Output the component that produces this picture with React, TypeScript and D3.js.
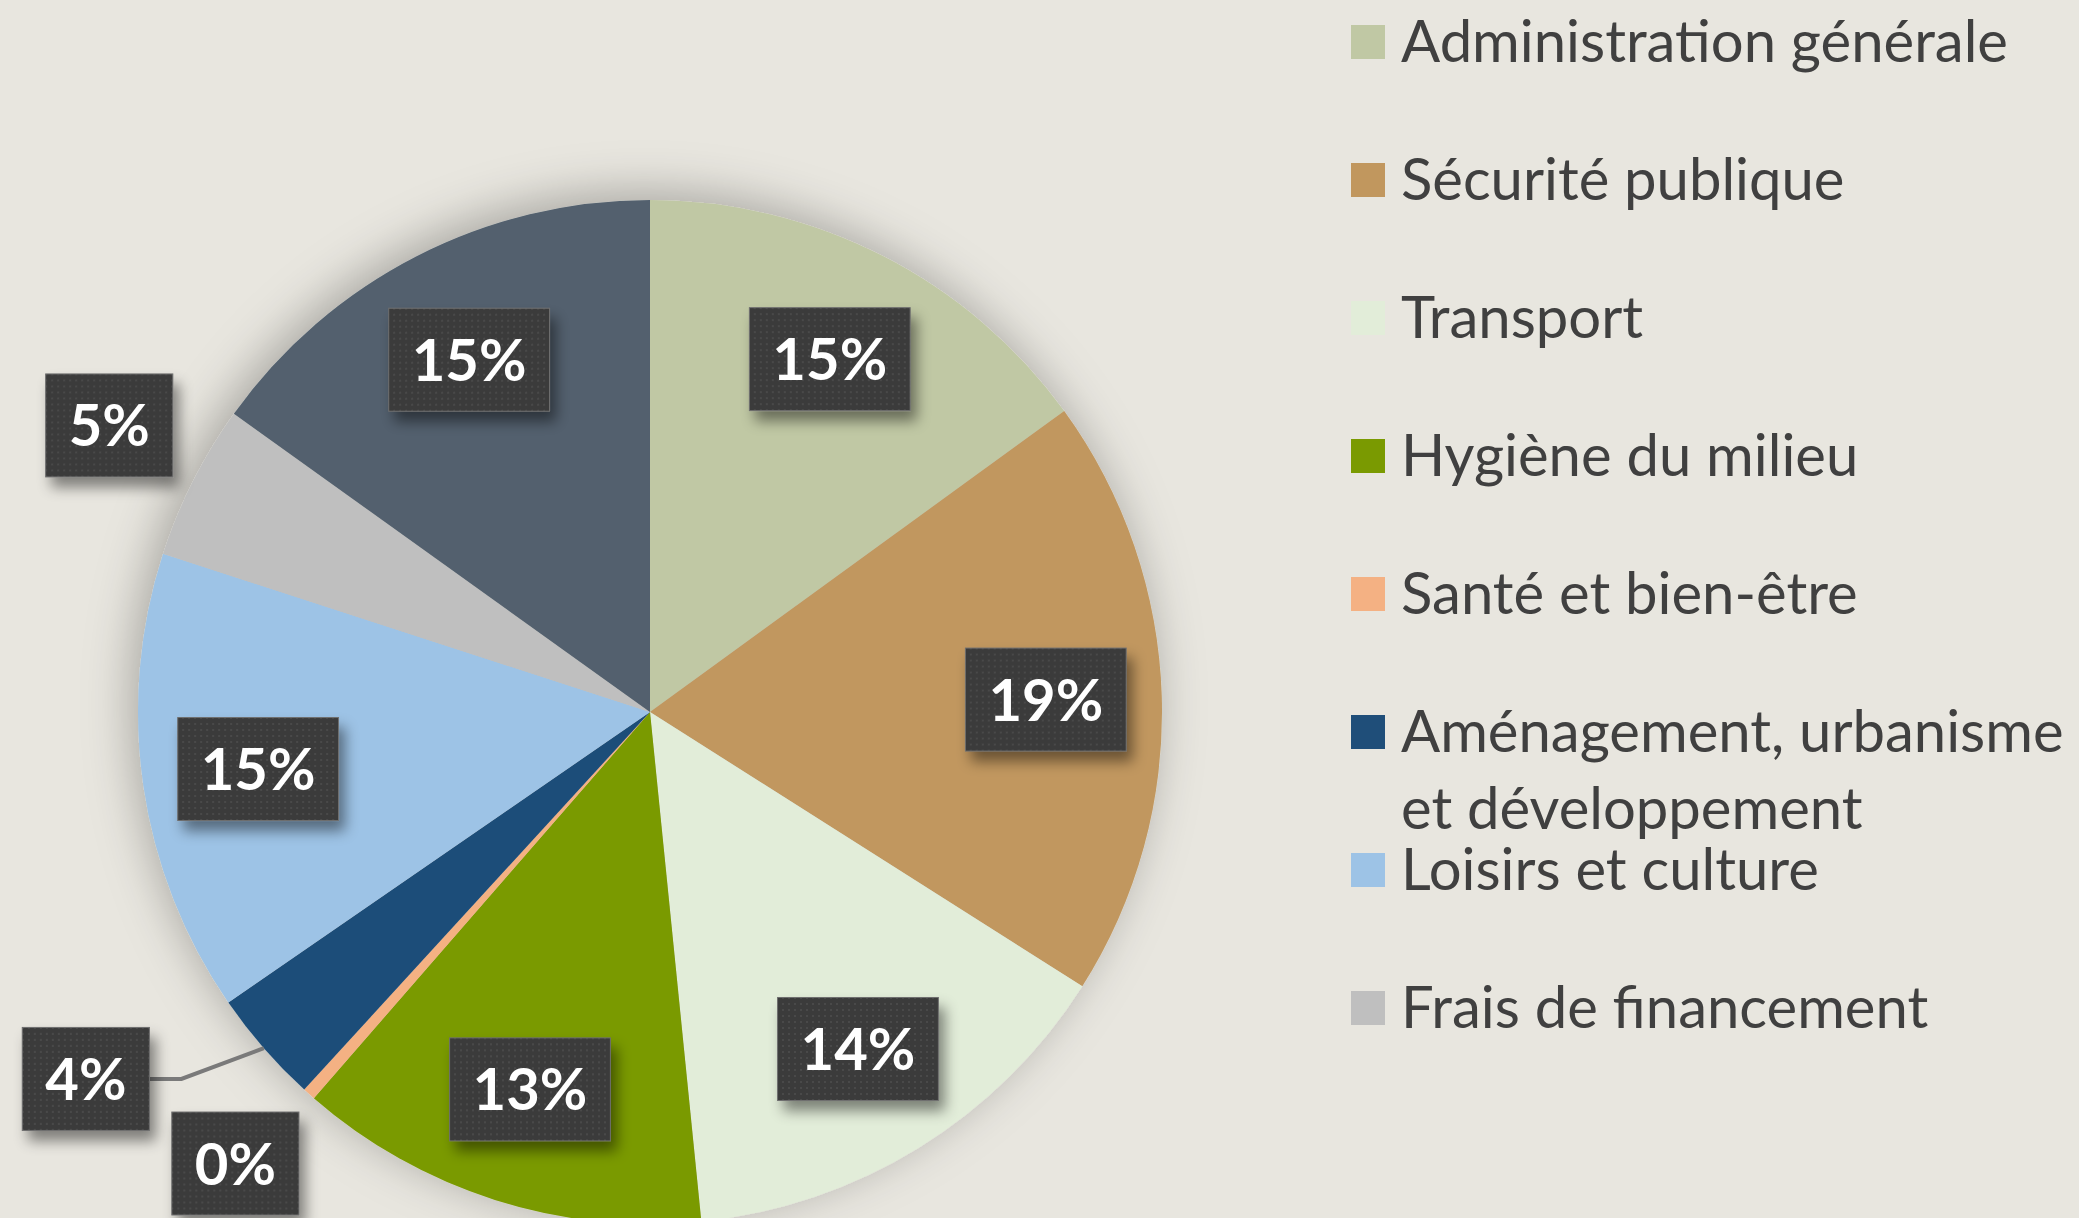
import React, { useEffect, useRef } from "react";
import * as d3 from "d3";

const categories = [
  "Administration générale",
  "Sécurité publique",
  "Transport",
  "Hygiène du milieu",
  "Santé et bien-être",
  "Aménagement, urbanisme et développement",
  "Loisirs et culture",
  "Frais de financement",
  "Autres",
];
const shares = [15.0, 19.0, 14.4, 13.0, 0.4, 3.6, 14.6, 4.9, 15.1];
const colors = [
  "#C0C8A4",
  "#C1975E",
  "#E2EDD9",
  "#7A9A01",
  "#F4B183",
  "#1F4E79",
  "#9DC3E6",
  "#BFBFBF",
  "#52606E",
];
// the legend of the original only shows the first eight entries
const legendCount = 8;

const W = 2079;
const H = 1218;

export default function App() {
  const ref = useRef<SVGSVGElement>(null);

  useEffect(() => {
    const svg = d3.select(ref.current);
    svg.selectAll("*").remove();

    const cx = 650,
      cy = 712,
      R = 512;
    const font = "Lato, 'Open Sans', sans-serif";

    const defs = svg.append("defs");
    const pieShadow = defs
      .append("filter")
      .attr("id", "pieShadow")
      .attr("x", "-30%")
      .attr("y", "-30%")
      .attr("width", "160%")
      .attr("height", "160%");
    pieShadow
      .append("feDropShadow")
      .attr("dx", -6)
      .attr("dy", -8)
      .attr("stdDeviation", 24)
      .attr("flood-color", "#000")
      .attr("flood-opacity", 0.28);

    const boxShadow = defs
      .append("filter")
      .attr("id", "boxShadow")
      .attr("x", "-30%")
      .attr("y", "-30%")
      .attr("width", "170%")
      .attr("height", "170%");
    boxShadow
      .append("feDropShadow")
      .attr("dx", 6)
      .attr("dy", 10)
      .attr("stdDeviation", 7)
      .attr("flood-color", "#000")
      .attr("flood-opacity", 0.45);

    const pat = defs
      .append("pattern")
      .attr("id", "dots")
      .attr("width", 6)
      .attr("height", 6)
      .attr("patternUnits", "userSpaceOnUse");
    pat.append("rect").attr("width", 6).attr("height", 6).attr("fill", "#3b3b3b");
    pat.append("circle").attr("cx", 3).attr("cy", 3).attr("r", 1).attr("fill", "#4d4d4d");

    svg.append("rect").attr("width", W).attr("height", H).attr("fill", "#E8E6DF");

    const pie = d3
      .pie<number>()
      .sort(null)
      .value((d) => d)(shares);
    const arc = d3.arc<d3.PieArcDatum<number>>().innerRadius(0).outerRadius(R);

    const g = svg.append("g").attr("transform", `translate(${cx},${cy})`);
    const slices = g.append("g").attr("filter", "url(#pieShadow)");
    slices
      .selectAll("path")
      .data(pie)
      .join("path")
      .attr("d", arc)
      .attr("fill", (d, i) => colors[i]);

    // label placement: small slices get theirs pulled outside (radius, angle nudge in degrees)
    const outside: Record<number, [number, number]> = {
      4: [613, 0.8],
      5: [673, 8],
      7: [612, 1.1],
    };
    const fmt = (v: number) => d3.format(".0f")(v) + "%";
    const boxH = 103,
      pad = 23;

    const lines = g.append("g");
    const labels = g.append("g");
    pie.forEach((d, i) => {
      const mid = (d.startAngle + d.endAngle) / 2;
      const [r, nudge] = outside[i] ?? [396, 0];
      const a = mid + (nudge * Math.PI) / 180;
      const x = Math.sin(a) * r;
      const y = -Math.cos(a) * r;
      const lg = labels.append("g").attr("transform", `translate(${x},${y})`);
      const rect = lg.append("rect");
      const t = lg
        .append("text")
        .attr("text-anchor", "middle")
        .attr("y", 21)
        .attr("fill", "#fff")
        .attr("font-family", font)
        .attr("font-weight", 700)
        .attr("font-size", 58)
        .text(fmt(d.data));
      const tw = (t.node() as SVGTextElement).getComputedTextLength();
      const bw = tw + pad * 2;
      rect
        .attr("x", -bw / 2)
        .attr("y", -boxH / 2)
        .attr("width", bw)
        .attr("height", boxH)
        .attr("fill", "url(#dots)")
        .attr("stroke", "#6f6f6f")
        .attr("stroke-width", 1)
        .attr("filter", "url(#boxShadow)");
      if (i === 5) {
        // leader line from the box to the slice edge
        const ex = Math.sin(mid) * R,
          ey = -Math.cos(mid) * R;
        const sx = x + bw / 2;
        lines
          .append("path")
          .attr("d", `M${sx},${y}L${sx + 32},${y}L${ex},${ey}`)
          .attr("fill", "none")
          .attr("stroke", "#7a7a7a")
          .attr("stroke-width", 4);
      }
    });

    // legend
    const legend = svg.append("g").attr("font-family", font).attr("font-size", 58).attr("fill", "#404040");
    const maxW = W - 1401 - 4;
    categories.slice(0, legendCount).forEach((name, i) => {
      const yc = 42 + i * 138;
      legend
        .append("rect")
        .attr("x", 1351)
        .attr("y", yc - 17)
        .attr("width", 34)
        .attr("height", 34)
        .attr("fill", colors[i]);
      const t = legend.append("text").attr("x", 1401).attr("y", yc + 20);
      const words = name.split(" ");
      let line: string[] = [];
      let ts = t.append("tspan").attr("x", 1401).attr("dy", 0);
      words.forEach((w) => {
        line.push(w);
        ts.text(line.join(" "));
        if ((ts.node() as SVGTSpanElement).getComputedTextLength() > maxW && line.length > 1) {
          line.pop();
          ts.text(line.join(" "));
          line = [w];
          ts = t.append("tspan").attr("x", 1401).attr("dy", 77).text(w);
        }
      });
    });
  }, []);

  return (
    <svg
      ref={ref}
      width={W}
      height={H}
      style={{ position: "absolute", left: 0, top: 0, display: "block" }}
    />
  );
}
